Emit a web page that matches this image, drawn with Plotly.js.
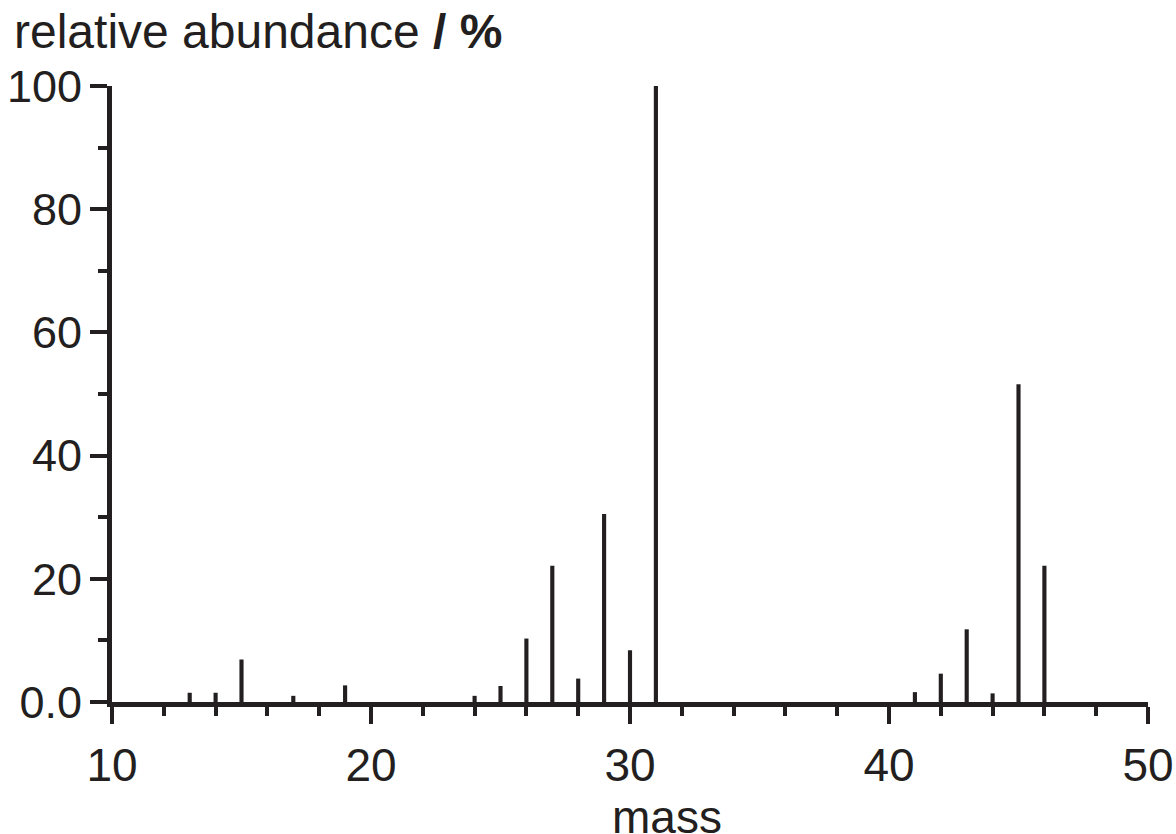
<!DOCTYPE html>
<html>
<head>
<meta charset="utf-8">
<script src="https://cdn.plot.ly/plotly-3.0.1.min.js"></script>
<style>html,body{margin:0;padding:0;background:#fff;}#chart{width:1176px;height:834px;}</style>
</head>
<body>
<div id="chart"></div>
<script>
const masses = [13, 14, 15, 17, 19, 24, 25, 26, 27, 28, 29, 30, 31, 41, 42, 43, 44, 45, 46];
const abundance = [1.5, 1.5, 6.9, 1.0, 2.7, 1.0, 2.6, 10.3, 22.1, 3.8, 30.5, 8.4, 100, 1.6, 4.6, 11.8, 1.4, 51.6, 22.1];
const xTickVals = [10, 20, 30, 40, 50];
const yTickVals = [0, 20, 40, 60, 80, 100];
const yTickText = ['0.0', '20', '40', '60', '80', '100'];

const ink = '#231f20';
const font = 'Liberation Sans, Arial, Helvetica, sans-serif';

const trace = {
  type: 'bar',
  x: masses,
  y: abundance,
  width: 0.16,
  marker: {color: ink, line: {width: 0}},
  hoverinfo: 'x+y'
};

const layout = {
  width: 1176,
  height: 834,
  margin: {l: 112, r: 28, t: 86, b: 132},
  paper_bgcolor: '#ffffff',
  plot_bgcolor: '#ffffff',
  showlegend: false,
  font: {family: font, color: ink, size: 46},
  xaxis: {
    range: [10, 50],
    tickmode: 'array',
    tickvals: xTickVals,
    ticks: 'outside',
    ticklen: 17,
    tickwidth: 4,
    tickcolor: ink,
    ticklabelstandoff: 2,
    showline: true,
    linewidth: 5,
    linecolor: ink,
    showgrid: false,
    zeroline: false,
    tickfont: {size: 46, family: font, color: ink},
    minor: {dtick: 2, tick0: 10, ticks: 'outside', ticklen: 9, tickwidth: 4, tickcolor: ink, showgrid: false}
  },
  yaxis: {
    range: [0, 100],
    tickmode: 'array',
    tickvals: yTickVals,
    ticktext: yTickText,
    ticks: 'outside',
    ticklen: 17,
    tickwidth: 4,
    tickcolor: ink,
    ticklabelstandoff: -1,
    showline: true,
    linewidth: 5,
    linecolor: ink,
    showgrid: false,
    zeroline: false,
    tickfont: {size: 45, family: font, color: ink},
    minor: {dtick: 10, tick0: 0, ticks: 'outside', ticklen: 9, tickwidth: 4, tickcolor: ink, showgrid: false}
  },
  annotations: [{
    text: 'relative abundance <b>/ %</b>',
    xref: 'paper', yref: 'paper',
    x: -0.0965, y: 1.089,
    xanchor: 'left', yanchor: 'middle',
    showarrow: false,
    font: {size: 48, family: font, color: ink}
  }, {
    text: 'mass',
    xref: 'paper', yref: 'paper',
    x: 0.5357, y: -0.187,
    xanchor: 'center', yanchor: 'middle',
    showarrow: false,
    font: {size: 46, family: font, color: ink}
  }]
};

Plotly.newPlot('chart', [trace], layout, {displayModeBar: false, staticPlot: true});
</script>
</body>
</html>
